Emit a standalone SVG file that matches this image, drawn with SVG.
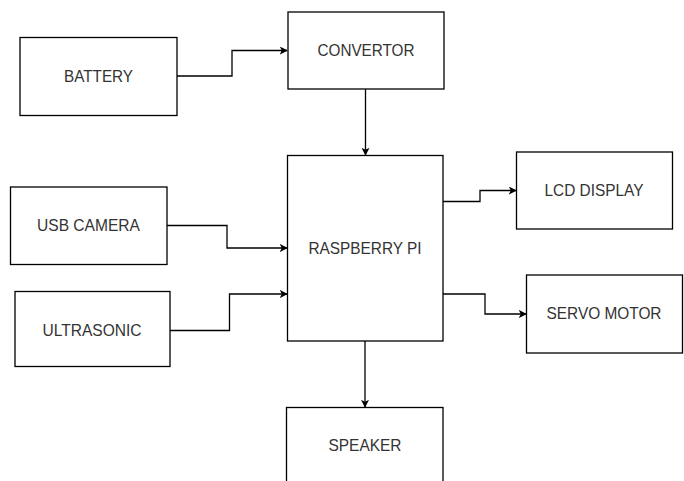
<svg xmlns="http://www.w3.org/2000/svg" width="684" height="481" viewBox="0 0 684 481">
<style>
.box{fill:#fff;stroke:#000;stroke-width:1.3}
.lbl{font-family:"Liberation Sans",Arial,sans-serif;font-size:17px;fill:#333;text-anchor:middle}
.edge{fill:none;stroke:#000;stroke-width:1.3}
</style>
<defs>
<marker id="arr" viewBox="0 0 10 10" refX="9" refY="5" markerWidth="8" markerHeight="8" markerUnits="userSpaceOnUse" orient="auto">
<path d="M0,0 L10,5 L0,10 L2.5,5 Z" fill="#000"/>
</marker>
</defs>
<rect width="684" height="481" fill="#fff"/>
<g id="edges">
<path class="edge" d="M177,76 H232 V50.5 H287" marker-end="url(#arr)"/>
<path class="edge" d="M365.5,89 V155" marker-end="url(#arr)"/>
<path class="edge" d="M167,225.5 H227 V248 H287" marker-end="url(#arr)"/>
<path class="edge" d="M170,330.5 H229.5 V294 H287" marker-end="url(#arr)"/>
<path class="edge" d="M443,201.5 H480 V190.5 H516" marker-end="url(#arr)"/>
<path class="edge" d="M443,294 H485 V314 H526" marker-end="url(#arr)"/>
<path class="edge" d="M365,341 V407" marker-end="url(#arr)"/>
</g>
<g id="battery"><rect class="box" x="20" y="37.5" width="157" height="78"/><text class="lbl" x="98.5" y="82" textLength="69" lengthAdjust="spacingAndGlyphs">BATTERY</text></g>
<g id="convertor"><rect class="box" x="288" y="12" width="156" height="77"/><text class="lbl" x="366" y="56" textLength="97" lengthAdjust="spacingAndGlyphs">CONVERTOR</text></g>
<g id="raspberry"><rect class="box" x="287.5" y="155.5" width="155.5" height="185.5"/><text class="lbl" x="365" y="254" textLength="113" lengthAdjust="spacingAndGlyphs">RASPBERRY PI</text></g>
<g id="usbcamera"><rect class="box" x="10.5" y="187" width="156.5" height="77.5"/><text class="lbl" x="88.5" y="231" textLength="103" lengthAdjust="spacingAndGlyphs">USB CAMERA</text></g>
<g id="ultrasonic"><rect class="box" x="15" y="291.5" width="155" height="75"/><text class="lbl" x="92" y="336" textLength="99" lengthAdjust="spacingAndGlyphs">ULTRASONIC</text></g>
<g id="lcd"><rect class="box" x="516.5" y="152" width="156" height="77"/><text class="lbl" x="594" y="196" textLength="99" lengthAdjust="spacingAndGlyphs">LCD DISPLAY</text></g>
<g id="servo"><rect class="box" x="526.5" y="275" width="156" height="78"/><text class="lbl" x="604" y="319" textLength="115" lengthAdjust="spacingAndGlyphs">SERVO MOTOR</text></g>
<g id="speaker"><rect class="box" x="286.5" y="407.5" width="156.5" height="80"/><text class="lbl" x="365" y="451" textLength="73" lengthAdjust="spacingAndGlyphs">SPEAKER</text></g>
</svg>
